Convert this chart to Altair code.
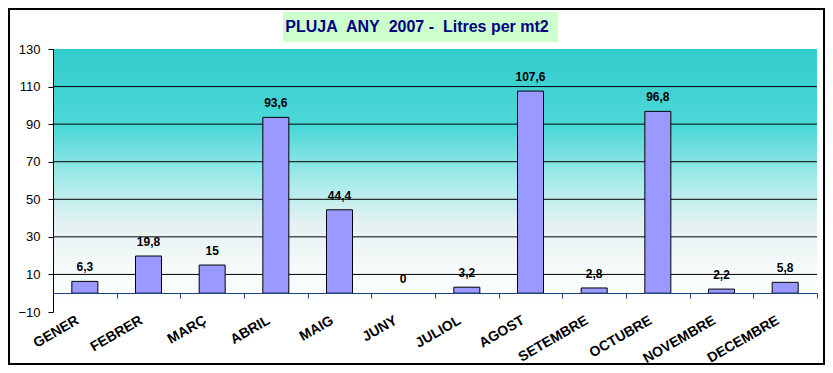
import altair as alt
import pandas as pd

# ---- data ----
mesos = ["GENER", "FEBRER", "MARÇ", "ABRIL", "MAIG", "JUNY", "JULIOL",
         "AGOST", "SETEMBRE", "OCTUBRE", "NOVEMBRE", "DECEMBRE"]
litres = [6.3, 19.8, 15, 93.6, 44.4, 0, 3.2, 107.6, 2.8, 96.8, 2.2, 5.8]
y_ticks = [-10, 10, 30, 50, 70, 90, 110, 130]
grid_vals = [10, 30, 50, 70, 90, 110]
title_text = "PLUJA\u00a0 ANY\u00a0 2007 -\u00a0 Litres per mt2"

W, H = 764, 263
FONT = "Liberation Sans"

df = pd.DataFrame({
    "mes": mesos,
    "litres": litres,
    "etiqueta": [str(v).replace(".", ",") for v in litres],
})
one = pd.DataFrame({"k": [0]})

yscale = alt.Scale(domain=[-10, 130], nice=False, zero=False)
xscale = alt.Scale(domain=mesos, paddingInner=0, paddingOuter=0)

x_axis = alt.Axis(
    title=None, labelAngle=-30, labelAlign="right", labelBaseline="top",
    labelFont=FONT, labelFontSize=14, labelFontWeight="bold",
    labelColor="black", labelPadding=15, labelOffset=-11,
    labelOverlap=False, tickBand="extent", tickSize=5,
    tickColor="#1F3F7F", domainColor="#1F3F7F", offset=-19, grid=False,
    zindex=2,
)
y_axis = alt.Axis(
    title=None, values=y_ticks, labelFont=FONT, labelFontSize=13,
    labelColor="black", labelPadding=8, tickSize=5, tickColor="black",
    domainColor="black", grid=False, labelFlush=False, zindex=2,
)

bg = alt.Chart(one).mark_rect(
    color=alt.Gradient(
        gradient="linear",
        x1=0, x2=0, y1=0, y2=1,
        stops=[
            alt.GradientStop(offset=0, color="#33CCCC"),
            alt.GradientStop(offset=0.3, color="#4DD8D8"),
            alt.GradientStop(offset=0.5, color="#A6EAEA"),
            alt.GradientStop(offset=0.66, color="#E4F1F1"),
            alt.GradientStop(offset=0.85, color="#F7FBFB"),
            alt.GradientStop(offset=1, color="#FFFFFF"),
        ],
    )
).encode(x=alt.value(0), x2=alt.value(W), y=alt.value(0), y2=alt.value(H))

grid = alt.Chart(pd.DataFrame({"g": grid_vals})).mark_rule(
    color="black", strokeWidth=1
).encode(y=alt.Y("g:Q", scale=yscale, axis=y_axis))

bars = alt.Chart(df).mark_bar(
    size=26, color="#9999FF", stroke="black", strokeWidth=1
).encode(
    x=alt.X("mes:N", sort=mesos, scale=xscale, axis=x_axis),
    y=alt.Y("litres:Q", scale=yscale, axis=y_axis),
    y2=alt.datum(0),
    strokeOpacity=alt.condition("datum.litres == 0", alt.value(0), alt.value(1)),
)

labels = alt.Chart(df).mark_text(
    dy=-10, baseline="alphabetic", font=FONT, fontSize=12,
    fontWeight="bold", color="black"
).encode(x=alt.X("mes:N", sort=mesos, scale=xscale, axis=x_axis),
         y=alt.Y("litres:Q", scale=yscale, axis=y_axis), text="etiqueta:N")

title_box = alt.Chart(one).mark_rect(color="#CCFFCC").encode(
    x=alt.value(230), x2=alt.value(505), y=alt.value(-37), y2=alt.value(-7)
)
title = alt.Chart(one).mark_text(
    text=title_text, font=FONT, fontSize=16, fontWeight="bold",
    color="#000080", align="center", baseline="middle"
).encode(x=alt.value(364), y=alt.value(-22))

frame = alt.Chart(one).mark_rect(
    fillOpacity=0, stroke="black", strokeWidth=2
).encode(x=alt.value(-44), x2=alt.value(W + 7), y=alt.value(-40), y2=alt.value(H + 52))

chart = alt.layer(bg, grid, bars, labels, title_box, title, frame).properties(
    width=W, height=H,
    padding={"left": 45, "top": 41, "right": 8, "bottom": 53},
    autosize=alt.AutoSizeParams(type="none"),
    background="white",
).configure_view(strokeWidth=0)

chart.save("out.html", embed_options={"renderer": "svg", "actions": False})
